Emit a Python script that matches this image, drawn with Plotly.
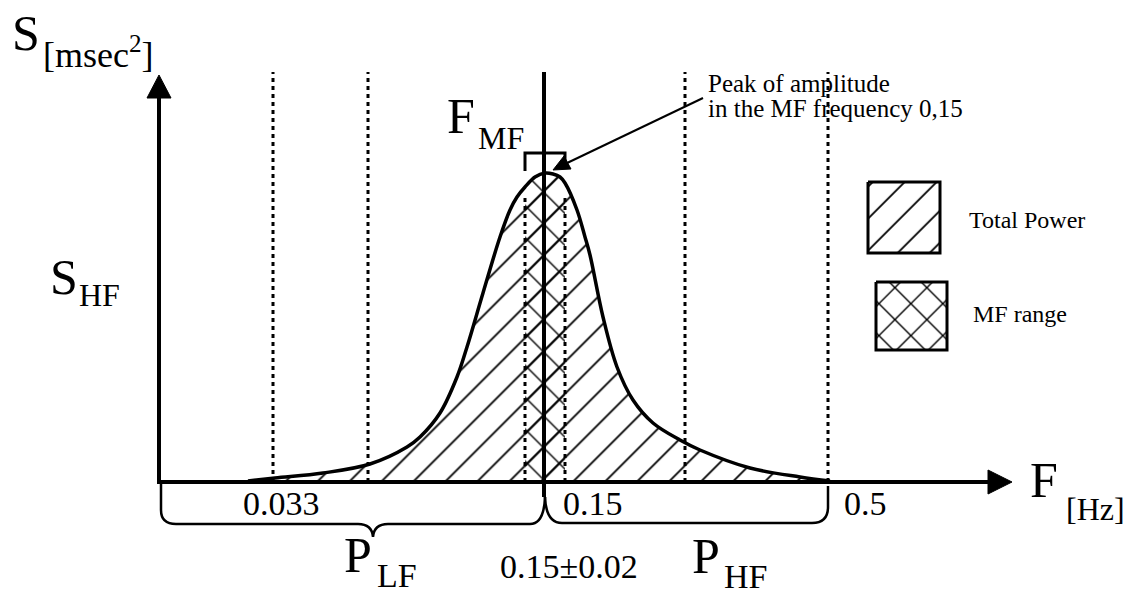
import plotly.graph_objects as go

# ---------------- data (diagram units: distance from origin, amplitude above baseline)
freq = [89, 116, 164, 211, 248, 261, 281, 298, 308, 324, 341, 351, 358, 366, 376,
        386, 394, 401, 406, 418, 426, 431, 444, 458, 474, 494, 521, 541, 591, 641, 671]
amp = [1, 4, 9, 18, 35, 45, 69, 105, 135, 189, 245, 272, 285, 295, 305,
       309, 308, 305, 299, 272, 245, 227, 165, 115, 82, 59, 42, 32, 14, 5, 1]
lf_edges = [114, 209]
hf_edges = [526, 669]
mf_edges = [366, 406]
mf_center = 385
tick_labels = ["0.033", "0.15", "0.5"]
tick_centres = [122, 434, 706]

# ---------------- frame (pixel helpers)
W, H = 1137, 596
X0, Y0 = 159, 482


def dx(px):
    return px - X0


def dy(py):
    return Y0 - py


def path(cmds):
    out = []
    for c in cmds:
        if isinstance(c, str):
            out.append(c)
        else:
            out.append(f"{dx(c[0])},{dy(c[1])}")
    return " ".join(out)


FONT = "Liberation Serif"
BLACK = "black"
HATCH = dict(shape="/", size=22.6, solidity=0.08, fgcolor=BLACK, fgopacity=1,
             bgcolor="rgba(0,0,0,0)")
CROSS = dict(shape="x", size=22.6, solidity=0.12, fgcolor=BLACK, fgopacity=1,
             bgcolor="rgba(0,0,0,0)")

fig = go.Figure()

# total power area (hatched)
fig.add_trace(go.Scatter(
    x=freq, y=amp, mode="lines", line=dict(width=0, shape="spline", color=BLACK),
    fill="tozeroy", fillcolor="rgba(0,0,0,0)", fillpattern=HATCH,
    hoverinfo="skip", showlegend=False))

# MF range (cross-hatched), bounded by the MF edges
mf_x = [f for f in freq if mf_edges[0] <= f <= mf_edges[1]]
mf_y = [a for f, a in zip(freq, amp) if mf_edges[0] <= f <= mf_edges[1]]
fig.add_trace(go.Scatter(
    x=mf_x, y=mf_y, mode="lines", line=dict(width=0, color=BLACK),
    fill="tozeroy", fillcolor="rgba(0,0,0,0)", fillpattern=CROSS,
    hoverinfo="skip", showlegend=False))

# spectrum curve
fig.add_trace(go.Scatter(
    x=freq, y=amp, mode="lines", line=dict(width=3.5, shape="spline", color=BLACK),
    hoverinfo="skip", showlegend=False))

# legend boxes
fig.add_trace(go.Scatter(
    x=[dx(868), dx(940), dx(940), dx(868), dx(868)],
    y=[dy(182), dy(182), dy(253), dy(253), dy(182)],
    mode="lines", line=dict(width=3, color=BLACK), fill="toself", fillcolor="rgba(0,0,0,0)",
    fillpattern=HATCH, hoverinfo="skip", showlegend=False))
fig.add_trace(go.Scatter(
    x=[dx(876), dx(947), dx(947), dx(876), dx(876)],
    y=[dy(282), dy(282), dy(350), dy(350), dy(282)],
    mode="lines", line=dict(width=3, color=BLACK), fill="toself", fillcolor="rgba(0,0,0,0)",
    fillpattern=CROSS, hoverinfo="skip", showlegend=False))

shapes = []
dot = dict(color=BLACK, width=3, dash="4px,4px")
for e in lf_edges + hf_edges:
    shapes.append(dict(type="line", xref="x", yref="y", x0=e, x1=e, y0=0, y1=dy(72), line=dot))
for e in mf_edges:
    shapes.append(dict(type="line", xref="x", yref="y", x0=e, x1=e, y0=0, y1=dy(197), line=dot))
shapes.append(dict(type="line", xref="x", yref="y", x0=mf_center, x1=mf_center,
                   y0=dy(497), y1=dy(72), line=dict(color=BLACK, width=4)))
# axes
shapes.append(dict(type="line", xref="x", yref="y", x0=0, x1=0, y0=dy(484), y1=dy(95),
                   line=dict(color=BLACK, width=4)))
shapes.append(dict(type="line", xref="x", yref="y", x0=dx(157), x1=dx(992), y0=0, y1=0,
                   line=dict(color=BLACK, width=4)))
shapes.append(dict(type="path", xref="x", yref="y",
                   path=path(["M", (147, 98), "L", (171, 98), "L", (159, 75), "Z"]),
                   fillcolor=BLACK, line=dict(color=BLACK, width=1)))
shapes.append(dict(type="path", xref="x", yref="y",
                   path=path(["M", (988, 470), "L", (988, 494), "L", (1012, 482), "Z"]),
                   fillcolor=BLACK, line=dict(color=BLACK, width=1)))
# bracket at the peak
shapes.append(dict(type="path", xref="x", yref="y",
                   path=path(["M", (525, 171), "L", (525, 153), "L", (565, 153), "L", (565, 164)]),
                   line=dict(color=BLACK, width=3)))
# arrow head at the peak
shapes.append(dict(type="path", xref="x", yref="y",
                   path=path(["M", (553, 170), "L", (564, 156), "L", (571, 169), "Z"]),
                   fillcolor=BLACK, line=dict(color=BLACK, width=1)))
# braces
shapes.append(dict(type="path", xref="x", yref="y",
                   path=path(["M", (161, 484), "L", (161, 510), "Q", (161, 524), (176, 524),
                              "L", (358, 524), "Q", (372, 524), (373, 537), "Q", (374, 524), (388, 524),
                              "L", (530, 524), "Q", (544, 524), (545, 497)]),
                   line=dict(color=BLACK, width=2.5)))
shapes.append(dict(type="path", xref="x", yref="y",
                   path=path(["M", (545, 497), "Q", (546, 523), (562, 523), "L", (812, 523),
                              "Q", (828, 523), (828, 507), "L", (828, 486)]),
                   line=dict(color=BLACK, width=2.5)))
# arrow shaft
shapes.append(dict(type="line", xref="x", yref="y", x0=dx(703), y0=dy(98), x1=dx(565), y1=dy(164),
                   line=dict(color=BLACK, width=2)))

annotations = []


def txt(t, px, py, size, anchor="center"):
    annotations.append(dict(text=t, x=dx(px), y=dy(py), xref="x", yref="y", showarrow=False,
                            xanchor=anchor, yanchor="middle",
                            font=dict(family=FONT, size=size, color=BLACK)))


txt("S", 26, 33, 50)
txt("[msec<sup>2</sup>]", 41, 52, 36, "left")
txt("S", 64, 277, 50)
txt("HF", 77, 295, 32, "left")
txt("F", 461, 116, 50)
txt("MF", 476, 138, 32, "left")
txt("F", 1044, 480, 50)
txt("[Hz]", 1064, 509, 32, "left")
txt("P", 358, 555, 50)
txt("LF", 375, 575, 34, "left")
txt("P", 706, 556, 50)
txt("HF", 722, 576, 34, "left")
txt("0.15\u00b10.02", 569, 566, 34)
for lab, c in zip(tick_labels, tick_centres):
    annotations.append(dict(text=lab, x=c, y=dy(503), xref="x", yref="y", showarrow=False,
                            xanchor="center", yanchor="middle",
                            font=dict(family=FONT, size=34, color=BLACK)))
txt("Peak of amplitude", 706, 83, 25, "left")
txt("in the MF frequency 0,15", 706, 108, 25, "left")
txt("Total Power", 967, 220, 24, "left")
txt("MF range", 971, 314, 24, "left")

fig.update_layout(
    width=W, height=H, autosize=False,
    margin=dict(l=0, r=0, t=0, b=0),
    paper_bgcolor="white", plot_bgcolor="white",
    xaxis=dict(range=[dx(0), dx(W)], visible=False, fixedrange=True),
    yaxis=dict(range=[dy(H), dy(0)], visible=False, fixedrange=True),
    shapes=shapes, annotations=annotations, showlegend=False,
)

fig.write_html("out.html", config={"displayModeBar": False},
               post_script="document.body.style.margin='0';")
